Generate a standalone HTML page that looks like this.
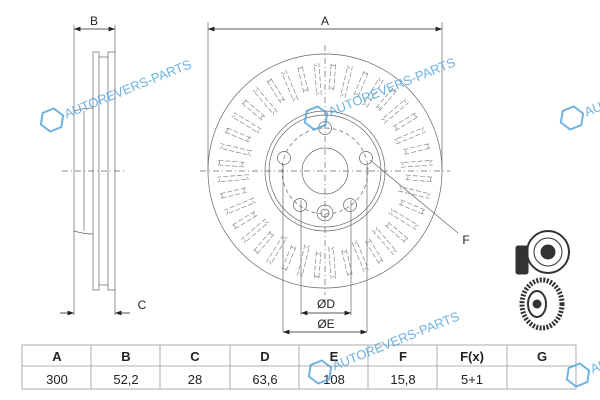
<!DOCTYPE html>
<html><head><meta charset="utf-8"><style>
body{margin:0;background:#fff;width:600px;height:400px;overflow:hidden}
svg{display:block}
text{font-family:"Liberation Sans",sans-serif}
</style></head><body>
<svg id="s" width="600" height="400" viewBox="0 0 600 400" xmlns="http://www.w3.org/2000/svg">
<defs><marker id="a" markerWidth="8" markerHeight="6" refX="8" refY="3" orient="auto-start-reverse"><path d="M0,0L8,3L0,6z" fill="#222"/></marker></defs>
<g stroke="#666" stroke-width="0.7" fill="none">
<line x1="74" y1="25" x2="74" y2="315"/><line x1="115" y1="25" x2="115" y2="52"/>
<rect x="93" y="52" width="6" height="238"/><rect x="108" y="52" width="7" height="238"/>
<line x1="99" y1="57" x2="108" y2="57"/><line x1="99" y1="285" x2="108" y2="285"/>
<path d="M74,111 Q84,108 93,108"/><path d="M74,231 Q84,234 93,234"/>
<line x1="84" y1="111" x2="84" y2="231"/>
<line x1="115" y1="290" x2="115" y2="315"/>
<line x1="62" y1="171" x2="125" y2="171" stroke-dasharray="6 3 1 3"/>
<line x1="208" y1="22" x2="208" y2="171"/><line x1="442" y1="22" x2="442" y2="171"/>
<circle cx="325" cy="171" r="117"/>
<circle cx="325" cy="171" r="60"/><circle cx="325" cy="171" r="56"/>
<circle cx="325" cy="171" r="43" stroke-dasharray="4 3"/>
<circle cx="325" cy="171" r="23"/>
<circle cx="325" cy="128" r="6.5"/><circle cx="366" cy="158" r="6.5"/><circle cx="284" cy="158" r="6.5"/>
<circle cx="300" cy="205" r="6.5"/><circle cx="350" cy="205" r="6.5"/>
<circle cx="325" cy="213" r="8"/><circle cx="325" cy="213" r="4"/>
<line x1="200" y1="171" x2="450" y2="171" stroke-dasharray="6 3 1 3"/>
<line x1="325" y1="45" x2="325" y2="295" stroke-dasharray="6 3 1 3"/>
<line x1="283" y1="165" x2="283" y2="332"/><line x1="367" y1="165" x2="367" y2="332"/>
<line x1="301" y1="200" x2="301" y2="315"/><line x1="351" y1="200" x2="351" y2="315"/>
<line x1="370" y1="160" x2="458" y2="233"/>
<g id="slots" stroke="#888" stroke-dasharray="5 2"></g>
</g>
<g stroke="#222" stroke-width="0.8">
<line x1="74" y1="29" x2="115" y2="29" marker-start="url(#a)" marker-end="url(#a)"/>
<line x1="208" y1="29" x2="442" y2="29" marker-start="url(#a)" marker-end="url(#a)"/>
<line x1="301" y1="313" x2="351" y2="313" marker-start="url(#a)" marker-end="url(#a)"/>
<line x1="283" y1="332" x2="367" y2="332" marker-start="url(#a)" marker-end="url(#a)"/>
<line x1="60" y1="313" x2="74" y2="313" marker-end="url(#a)"/>
<line x1="130" y1="313" x2="115" y2="313" marker-end="url(#a)"/>
</g>
<g font-size="12" fill="#222" text-anchor="middle">
<text x="94" y="25">B</text><text x="325" y="25">A</text>
<text x="142" y="309">C</text><text x="466" y="244">F</text>
<text x="326" y="308">ØD</text><text x="326" y="328">ØE</text>
</g>
<g fill="#333" stroke="#333">
<rect x="516" y="246" width="12" height="28" rx="2"/>
<circle cx="548" cy="252" r="21" fill="none" stroke-width="2"/>
<circle cx="548" cy="252" r="14" fill="none"/><circle cx="548" cy="252" r="7"/>
<ellipse cx="542" cy="304" rx="20" ry="24" fill="none" stroke-width="5" stroke-dasharray="2 1.5"/>
<ellipse cx="537" cy="304" rx="9" ry="13" fill="none" stroke-width="2"/>
<circle cx="537" cy="304" r="4"/>
</g>
<g stroke="#999" stroke-width="0.8" fill="none">
<rect x="22" y="345" width="554" height="44"/>
<line x1="22" y1="366" x2="576" y2="366"/>
<line x1="91" y1="345" x2="91" y2="389"/><line x1="160" y1="345" x2="160" y2="389"/>
<line x1="230" y1="345" x2="230" y2="389"/><line x1="299" y1="345" x2="299" y2="389"/>
<line x1="368" y1="345" x2="368" y2="389"/><line x1="437" y1="345" x2="437" y2="389"/>
<line x1="507" y1="345" x2="507" y2="389"/>
</g>
<g font-size="13" fill="#222" text-anchor="middle">
<g font-weight="bold"><text x="57" y="361">A</text><text x="126" y="361">B</text><text x="195" y="361">C</text><text x="265" y="361">D</text><text x="334" y="361">E</text><text x="403" y="361">F</text><text x="472" y="361">F(x)</text><text x="542" y="361">G</text></g>
<text x="57" y="384">300</text><text x="126" y="384">52,2</text><text x="195" y="384">28</text><text x="265" y="384">63,6</text><text x="334" y="384">108</text><text x="403" y="384">15,8</text><text x="472" y="384">5+1</text>
</g>
<g fill="#4a9fd8" font-size="13" opacity="0.8">
<g transform="translate(52,120) rotate(-22)"><polygon points="-12,0 -6,-10 6,-10 12,0 6,10 -6,10" fill="none" stroke="#4a9fd8" stroke-width="2"/><text x="14" y="4">AUTOREVERS-PARTS</text></g>
<g transform="translate(316,118) rotate(-22)"><polygon points="-12,0 -6,-10 6,-10 12,0 6,10 -6,10" fill="none" stroke="#4a9fd8" stroke-width="2"/><text x="14" y="4">AUTOREVERS-PARTS</text></g>
<g transform="translate(320,372) rotate(-22)"><polygon points="-12,0 -6,-10 6,-10 12,0 6,10 -6,10" fill="none" stroke="#4a9fd8" stroke-width="2"/><text x="14" y="4">AUTOREVERS-PARTS</text></g>
<g transform="translate(572,118) rotate(-22)"><polygon points="-12,0 -6,-10 6,-10 12,0 6,10 -6,10" fill="none" stroke="#4a9fd8" stroke-width="2"/><text x="14" y="4">AUTO</text></g>
<g transform="translate(578,375) rotate(-22)"><polygon points="-12,0 -6,-10 6,-10 12,0 6,10 -6,10" fill="none" stroke="#4a9fd8" stroke-width="2"/><text x="14" y="4">AUTO</text></g>
</g>
</svg>
<script>
var g=document.getElementById('slots'),s='',N=40;
for(var i=0;i<N;i++){var t=(i+0.5)*2*Math.PI/N,c=Math.cos(t),n=Math.sin(t),o=i%2?0:5;
var r1=76+o,r2=108,cx=325,cy=171,h=2.3;
var px=-n*h,py=c*h;
s+='<path d="M'+(cx+c*r1+px)+','+(cy+n*r1+py)+'L'+(cx+c*r2+px)+','+(cy+n*r2+py)+'A'+h+','+h+' 0 0 1 '+(cx+c*r2-px)+','+(cy+n*r2-py)+'L'+(cx+c*r1-px)+','+(cy+n*r1-py)+'A'+h+','+h+' 0 0 1 '+(cx+c*r1+px)+','+(cy+n*r1+py)+'"/>';}
g.innerHTML=s;
</script>
</body></html>
